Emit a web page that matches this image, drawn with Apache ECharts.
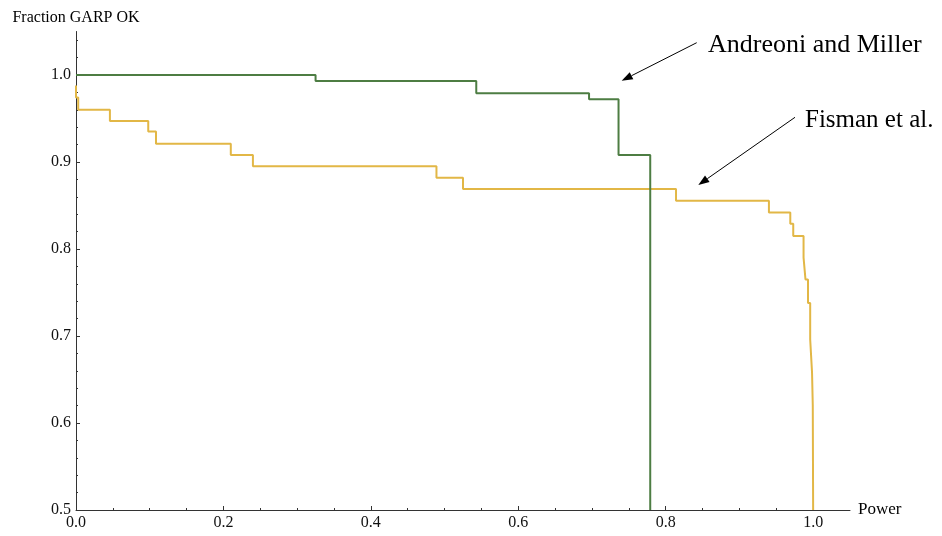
<!DOCTYPE html>
<html>
<head>
<meta charset="utf-8">
<script src="https://cdn.jsdelivr.net/npm/echarts@6/dist/echarts.min.js"></script>
<style>
html,body{margin:0;padding:0;background:#fff;}
#c{width:942px;height:536px;}
</style>
</head>
<body>
<div id="c"></div>
<script>
// ---- data ----
var amPower = [0, 0.325, 0.543, 0.696, 0.736, 0.779];
var amFrac  = [1.0, 0.993, 0.979, 0.972, 0.908, 0.5];

var fPower = [0, 0, 0.003, 0.046, 0.098, 0.1085, 0.21, 0.24, 0.489, 0.525, 0.814, 0.940, 0.969, 0.973, 0.987, 0.9896, 0.993, 0.996, 0.9985, 0.9995, 1.0];
var fFrac  = [0.988, 0.974, 0.960, 0.947, 0.935, 0.921, 0.908, 0.895, 0.882, 0.869, 0.8555, 0.842, 0.829, 0.815, 0.790, 0.765, 0.738, 0.696, 0.658, 0.62, 0.5];

var xMajor = [0, 0.2, 0.4, 0.6, 0.8, 1.0];
var xMinor = [0.05, 0.1, 0.15, 0.25, 0.3, 0.35, 0.45, 0.5, 0.55, 0.65, 0.7, 0.75, 0.85, 0.9, 0.95];
var yMajor = [0.5, 0.6, 0.7, 0.8, 0.9, 1.0];
var yMinor = [0.52, 0.54, 0.56, 0.58, 0.62, 0.64, 0.66, 0.68, 0.72, 0.74, 0.76, 0.78, 0.82, 0.84, 0.86, 0.88, 0.92, 0.94, 0.96, 0.98, 1.02, 1.04];

var seriesNames = ['Andreoni and Miller', 'Fisman et al.'];
var xName = 'Power';
var yName = 'Fraction GARP OK';

function pairs(xs, ys){ return xs.map(function(x,i){ return [x, ys[i]]; }); }

var FONT = '"Liberation Serif", "DejaVu Serif", serif';
var axisColor = '#333';

var chart = echarts.init(document.getElementById('c'), null, {renderer:'canvas'});

function arrow(x1,y1,x2,y2){
  var dx=x2-x1, dy=y2-y1, L=Math.sqrt(dx*dx+dy*dy), ux=dx/L, uy=dy/L;
  var hl=11, hw=4;
  var bx=x2-ux*hl, by=y2-uy*hl;
  return [
    {type:'line', shape:{x1:x1,y1:y1,x2:bx,y2:by}, style:{stroke:'#000', lineWidth:1}},
    {type:'polygon', shape:{points:[[x2,y2],[bx-uy*hw,by+ux*hw],[bx+uy*hw,by-ux*hw]]}, style:{fill:'#000'}}
  ];
}

var graphics = [
  {type:'text', left:708, top:32, style:{text:seriesNames[0], font:'26px '+FONT, fill:'#000'}},
  {type:'text', left:805, top:108, style:{text:seriesNames[1], font:'25px '+FONT, fill:'#000'}}
].concat(arrow(696.7,42.7,621.7,80.7)).concat(arrow(795,117.3,698.3,185));

var option = {
  backgroundColor:'#fff',
  animation:false,
  grid:{left:76, right:92, top:31.5, bottom:26, containLabel:false},
  xAxis:[{
    type:'value', min:0, max:1.05, position:'bottom',
    name:xName, nameLocation:'end', nameGap:8,
    nameTextStyle:{fontFamily:FONT, fontSize:17, color:'#000'},
    axisLine:{show:true, onZero:false, lineStyle:{color:axisColor, width:1}},
    axisTick:{show:true, inside:true, length:4, customValues:xMajor, lineStyle:{color:axisColor}},
    axisLabel:{show:true, customValues:xMajor, margin:5, fontFamily:FONT, fontSize:16, color:'#111',
      formatter:function(v){return v.toFixed(1);}},
    splitLine:{show:false}
  },{
    type:'value', min:0, max:1.05, position:'bottom',
    axisLine:{show:false},
    axisTick:{show:true, inside:true, length:2, customValues:xMinor, lineStyle:{color:axisColor}},
    axisLabel:{show:false},
    splitLine:{show:false}
  }],
  yAxis:[{
    type:'value', min:0.5, max:1.05, position:'left',
    name:yName, nameLocation:'end', nameGap:6,
    nameTextStyle:{fontFamily:FONT, fontSize:16, color:'#000'},
    axisLine:{show:true, onZero:false, lineStyle:{color:axisColor, width:1}},
    axisTick:{show:true, inside:true, length:4, customValues:yMajor, lineStyle:{color:axisColor}},
    axisLabel:{show:true, customValues:yMajor, margin:5, fontFamily:FONT, fontSize:16, color:'#111',
      formatter:function(v){return v.toFixed(1);}},
    splitLine:{show:false}
  },{
    type:'value', min:0.5, max:1.05, position:'left',
    axisLine:{show:false},
    axisTick:{show:true, inside:true, length:2, customValues:yMinor, lineStyle:{color:axisColor}},
    axisLabel:{show:false},
    splitLine:{show:false}
  }],
  series:[{
    name:seriesNames[1], type:'line', step:'end', showSymbol:false, symbol:'none',
    xAxisIndex:0, yAxisIndex:0,
    data:pairs(fPower, fFrac),
    lineStyle:{color:'#e2b746', width:2}, z:2
  },{
    name:seriesNames[0], type:'line', step:'end', showSymbol:false, symbol:'none',
    xAxisIndex:0, yAxisIndex:0,
    data:pairs(amPower, amFrac),
    lineStyle:{color:'#4d7d43', width:2}, z:3
  }],
  graphic:graphics
};
chart.setOption(option);
</script>
</body>
</html>
